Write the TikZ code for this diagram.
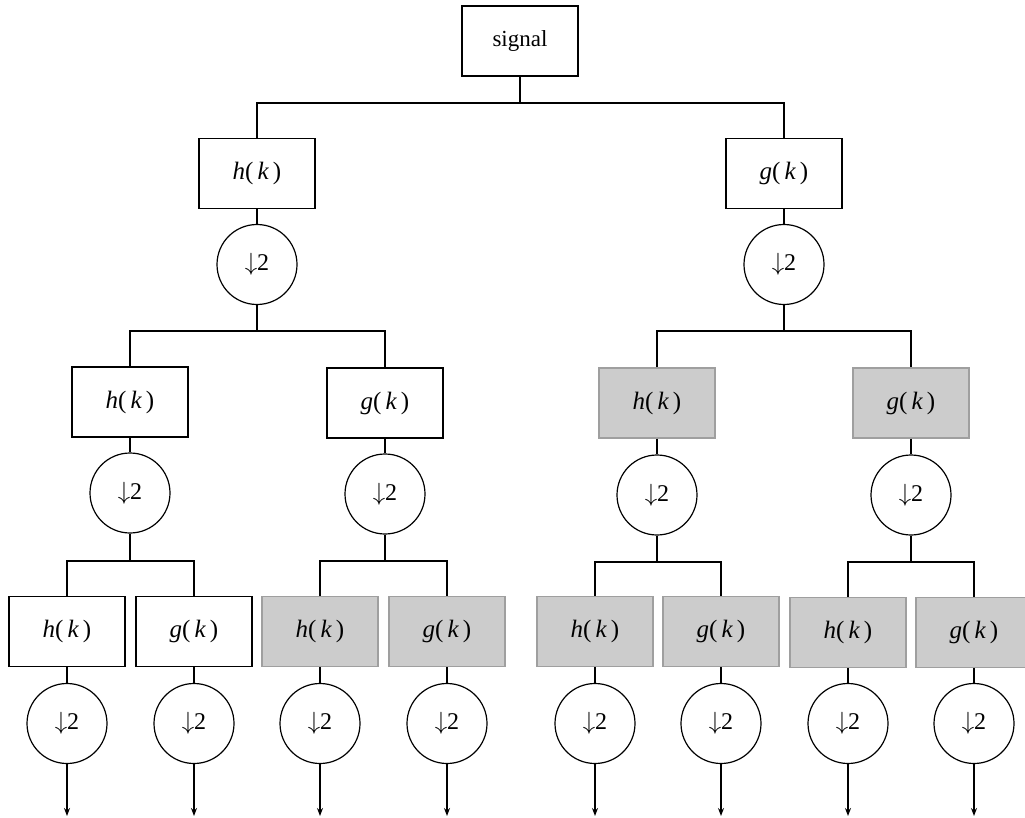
\documentclass[tikz,border=0pt]{standalone}
\usepackage{fontspec}
\setmainfont{Liberation Serif}
\usetikzlibrary{arrows.meta}
\newcommand{\hk}{{\itshape h}(\,{\itshape k}\,)}
\newcommand{\gk}{{\itshape g}(\,{\itshape k}\,)}
\newcommand{\dn}{$\downarrow$2}
\tikzset{
  filterbox/.style={draw=black, line width=1.3pt, fill=white, minimum width=116pt,
    minimum height=70pt, inner sep=0pt, font=\fontsize{25}{30}\selectfont},
  shadedbox/.style={filterbox, draw=gray!75, fill=gray!40},
  sigbox/.style={filterbox, font=\fontsize{23}{28}\selectfont},
  downs/.style={circle, draw=black, line width=1.2pt, fill=white, minimum size=80pt,
    inner sep=0pt, font=\fontsize{24}{29}\selectfont},
  wire/.style={line width=1.8pt},
  outwire/.style={wire, -{Stealth[length=8pt,width=6pt]}}
}
\begin{document}
\begin{tikzpicture}[x=1pt,y=-1pt]
\useasboundingbox (0,0) rectangle (1025,818);

% root
\node[sigbox] (sig) at (520,41) {signal};

% first stage
\node[filterbox] (h1) at (257,173.5) {\hk};
\node[filterbox] (g1) at (784,173.5) {\gk};
\node[downs] (d1h) at (257,264.5) {\dn};
\node[downs] (d1g) at (784,264.5) {\dn};

% second stage
\node[filterbox] (h2a) at (130,402) {\hk};
\node[filterbox] (g2a) at (385,403) {\gk};
\node[shadedbox] (h2b) at (657,403) {\hk};
\node[shadedbox] (g2b) at (911,403) {\gk};
\node[downs] (d2ha) at (130,493) {\dn};
\node[downs] (d2ga) at (385,494) {\dn};
\node[downs] (d2hb) at (657,495) {\dn};
\node[downs] (d2gb) at (911,495) {\dn};

% third stage
\node[filterbox] (h3a) at (67,631.5) {\hk};
\node[filterbox] (g3a) at (194,631.5) {\gk};
\node[shadedbox] (h3b) at (320,631.5) {\hk};
\node[shadedbox] (g3b) at (447,631.5) {\gk};
\node[shadedbox] (h3c) at (595,631.5) {\hk};
\node[shadedbox] (g3c) at (721,631.5) {\gk};
\node[shadedbox] (h3d) at (848,632.5) {\hk};
\node[shadedbox] (g3d) at (974,632.5) {\gk};
\foreach \n/\x in {a/67,b/194,c/320,d/447,e/595,f/721,g/848,h/974}{
  \node[downs] (d3\n) at (\x,723.5) {\dn};
  \coordinate (o\n) at (\x,816);
}

% bus junctions
\coordinate (b0) at (520,103);
\coordinate (b1) at (257,331);
\coordinate (b2) at (784,331);
\coordinate (b3) at (130,561);
\coordinate (b4) at (385,561);
\coordinate (b5) at (657,562);
\coordinate (b6) at (911,562);

% connectors
\draw[wire] (sig.south) -- (b0);
\draw[wire] (h1.north) |- (b0) -| (g1.north);
\draw[wire] (h1) -- (d1h);
\draw[wire] (g1) -- (d1g);
\draw[wire] (d1h) -- (b1);
\draw[wire] (d1g) -- (b2);
\draw[wire] (h2a.north) |- (b1) -| (g2a.north);
\draw[wire] (h2b.north) |- (b2) -| (g2b.north);
\draw[wire] (h2a) -- (d2ha);
\draw[wire] (g2a) -- (d2ga);
\draw[wire] (h2b) -- (d2hb);
\draw[wire] (g2b) -- (d2gb);
\draw[wire] (d2ha) -- (b3);
\draw[wire] (d2ga) -- (b4);
\draw[wire] (d2hb) -- (b5);
\draw[wire] (d2gb) -- (b6);
\draw[wire] (h3a.north) |- (b3) -| (g3a.north);
\draw[wire] (h3b.north) |- (b4) -| (g3b.north);
\draw[wire] (h3c.north) |- (b5) -| (g3c.north);
\draw[wire] (h3d.north) |- (b6) -| (g3d.north);
\draw[wire] (h3a) -- (d3a);
\draw[wire] (g3a) -- (d3b);
\draw[wire] (h3b) -- (d3c);
\draw[wire] (g3b) -- (d3d);
\draw[wire] (h3c) -- (d3e);
\draw[wire] (g3c) -- (d3f);
\draw[wire] (h3d) -- (d3g);
\draw[wire] (g3d) -- (d3h);
\foreach \n in {a,b,c,d,e,f,g,h}{
  \draw[outwire] (d3\n) -- (o\n);
}
\end{tikzpicture}
\end{document}
